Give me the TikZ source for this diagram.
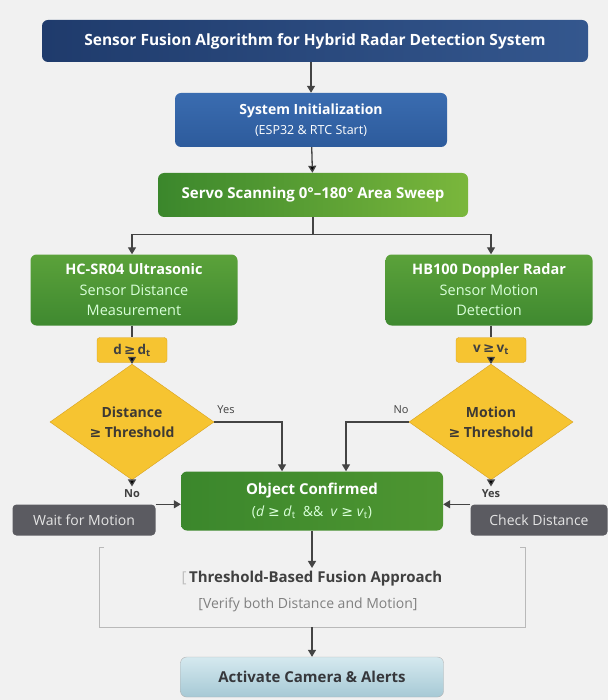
\documentclass[tikz,border=0pt]{standalone}
\usepackage{fontspec}
\setmainfont{Open Sans}
\newfontfamily\symfont{DejaVu Sans}
\usetikzlibrary{calc}
\usetikzlibrary{shapes.geometric, arrows, arrows.meta}
\newcommand{\geqsym}{{\symfont ≥}}
\definecolor{navy}{HTML}{1F3B6C}
\definecolor{navylight}{HTML}{34578E}
\definecolor{initblue}{HTML}{2D5B9C}
\definecolor{initbluelight}{HTML}{3A6CB0}
\definecolor{green1}{HTML}{3B872C}
\definecolor{green2}{HTML}{7AB73C}
\definecolor{sensgreen}{HTML}{3F8930}
\definecolor{sensgreenlight}{HTML}{5BA23A}
\definecolor{yel}{HTML}{F6C431}
\definecolor{yeldark}{HTML}{D9A21E}
\definecolor{greybox}{HTML}{5B5B61}
\definecolor{actblue}{HTML}{D5E9EF}
\definecolor{actbluedark}{HTML}{A6C9D5}
\definecolor{linegray}{HTML}{444444}
\definecolor{bggray}{HTML}{F1F1F1}
\tikzstyle{box} = [
    rectangle,
    align=center,
    rounded corners=6pt,
    text=white,
    inner sep=2pt,
]
\tikzstyle{tbox} = [box, left color=navy, right color=navylight,
    minimum width=546pt, minimum height=42pt,
    font=\fontsize{15.5}{18}\selectfont\bfseries]
\tikzstyle{bbox} = [box, top color=initbluelight, bottom color=initblue,
    minimum width=272pt, minimum height=54pt]
\tikzstyle{gbox} = [box, left color=green1, right color=green2,
    minimum width=310pt, minimum height=44pt,
    font=\fontsize{15}{18}\selectfont\bfseries]
\tikzstyle{sbox} = [box, top color=sensgreenlight, bottom color=sensgreen,
    minimum width=207pt, minimum height=71pt,
    font=\fontsize{14.5}{20.5}\selectfont, text=white!85!green]
\tikzstyle{ybox} = [box, rounded corners=3pt, fill=yel, draw=yeldark,
    minimum width=70pt, minimum height=25pt, text=black!75,
    font=\fontsize{13.5}{15}\selectfont\bfseries]
\tikzstyle{dia} = [diamond, fill=yel, draw=yeldark, align=center,
    minimum width=164pt, minimum height=78pt, inner sep=0pt,
    text=black!70!yellow!40!black, font=\fontsize{14}{20}\selectfont\bfseries]
\tikzstyle{dbox} = [box, rounded corners=4pt, fill=greybox,
    minimum height=31pt, text=white!80!gray,
    font=\fontsize{14}{16}\selectfont]
\tikzstyle{abox} = [box, top color=actblue, bottom color=actbluedark,
    draw=gray!60, minimum width=263pt, minimum height=40pt,
    text=black!60!cyan!30!black, font=\fontsize{15}{18}\selectfont\bfseries]
\tikzstyle{lbl} = [text=black!75, font=\fontsize{11}{13}\selectfont\bfseries]
\tikzstyle{arrow} = [line width=1.3pt, draw=linegray, ->,
    >={Triangle[length=7pt,width=8pt]}]
\tikzstyle{bracket} = [line width=1pt, draw=gray!55]

\begin{document}
\begin{tikzpicture}[x=1pt, y=-1pt]
    \useasboundingbox [fill=bggray] (0,0) rectangle (608,700);

    \node (title) [tbox] at (315,41) {Sensor Fusion Algorithm for Hybrid Radar Detection System};
    \node (init) [bbox] at (311,120) {
        {\fontsize{14}{21}\selectfont\bfseries System Initialization}\\[7pt]
        {\fontsize{12.5}{14}\selectfont (ESP32 \& RTC Start)}
    };
    \node (servo) [gbox] at (313,195) {Servo Scanning 0°–180° Area Sweep};

    % the two sensor branches
    \node (ultra) [sbox] at (134,290) {
        {\bfseries\color{white} HC-SR04 Ultrasonic}\\ Sensor Distance\\ Measurement
    };
    \node (radar) [sbox] at (489,290) {
        {\bfseries\color{white} HB100 Doppler Radar}\\ Sensor Motion\\ Detection
    };
    \node (dlab) [ybox] at (132,350) {d\,\geqsym\,d\textsubscript{t}};
    \node (vlab) [ybox] at (491,350) {v\,\geqsym\,v\textsubscript{t}};
    \node (ddia) [dia] at (132,422) {Distance\\ \geqsym\ Threshold};
    \node (mdia) [dia] at (491,422) {Motion\\ \geqsym\ Threshold};
    \node (yesl) [lbl, font=\fontsize{11}{13}\selectfont] at (226,410) {Yes};
    \node (nor) [lbl, font=\fontsize{11}{13}\selectfont] at (401,410) {No};
    \node (nol) [lbl] at (132,494) {No};
    \node (yesr) [lbl] at (491,494) {Yes};

    \node (obj) [box, left color=green1, right color=green1!70!green2,
        minimum width=262pt, minimum height=59pt] at (312,501) {
        {\fontsize{15}{22}\selectfont\bfseries Object Confirmed}\\[6pt]
        {\fontsize{14}{16}\selectfont\color{white!85!green}
        (\textit{d} \geqsym\ \textit{d}\textsubscript{t}\ \ \&\&\ \ \textit{v} \geqsym\ \textit{v}\textsubscript{t})}
    };
    \node (wait) [dbox, minimum width=143pt] at (84,520) {Wait for Motion};
    \node (check) [dbox, minimum width=137pt] at (539,520) {Check Distance};

    \node (fusion) [text=black!75, font=\fontsize{15}{18}\selectfont\bfseries]
        at (312,579) {{\color{gray!50}\mdseries[}\,Threshold-Based Fusion Approach};
    \node (verify) [text=gray, font=\fontsize{14}{16}\selectfont]
        at (308,605) {[Verify both Distance and Motion]};
    \node (act) [abox] at (312,677) {Activate Camera \& Alerts};

    % bracket round the fusion text
    \coordinate (bl) at (99,547);
    \coordinate (br) at (525,547);
    \coordinate (bbot) at (312,627);
    \draw [bracket] ([xshift=5pt]bl) -- (bl) -- (bl |- bbot) -- (br |- bbot) -- (br) -- ([xshift=-5pt]br);

    % main flow
    \draw [arrow] (title.south -| init.north) -- (init.north);
    \path [arrow]
        (init) edge (servo);
    \draw [line width=1.3pt, draw=linegray] (servo.south) -- ++(0,17) coordinate (split);
    \draw [arrow] (split) -| (dlab |- ultra.north);
    \draw [arrow] (split) -| (vlab |- radar.north);
    \draw [line width=1.3pt, draw=linegray]
        (dlab |- ultra.south) -- (dlab)
        (vlab |- radar.south) -- (vlab);
    \path [arrow]
        (dlab) edge (ddia)
        (vlab) edge (mdia)
        (ddia) edge (nol)
        (mdia) edge (yesr);
    \draw [arrow] (ddia.east) -| ([xshift=-30pt]obj.north);
    \draw [arrow] (mdia.west) -| ([xshift=34pt]obj.north);
    \draw [arrow] (wait.north east) -- (wait.north east -| obj.west);
    \draw [arrow] (check.north west) -- (check.north west -| obj.east);
    \draw [arrow] (obj) -- (fusion);
    \draw [arrow] (bbot) -- (act);
\end{tikzpicture}
\end{document}
